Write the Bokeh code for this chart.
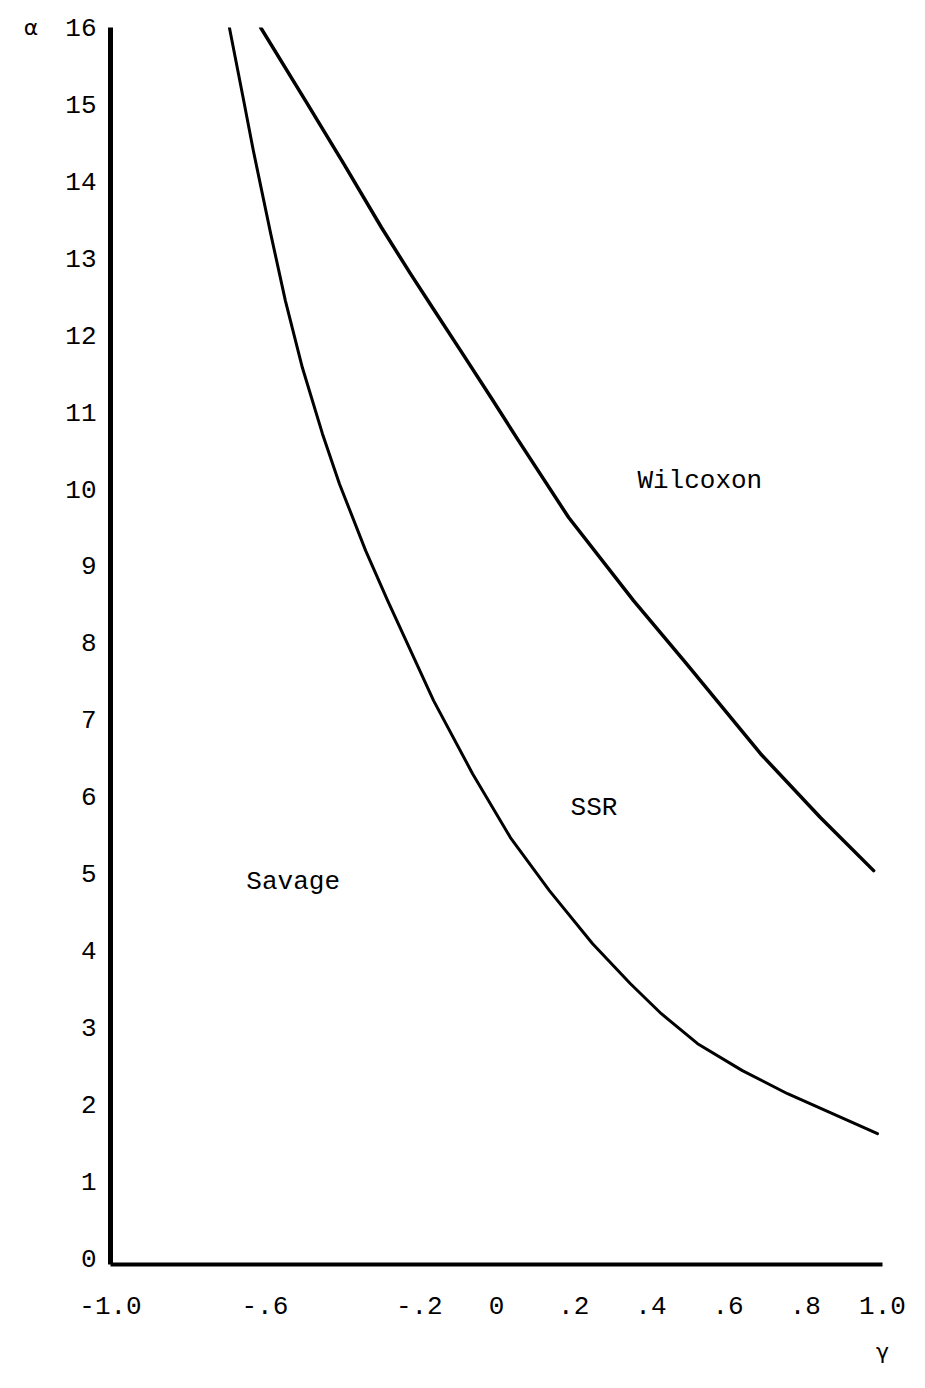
from bokeh.plotting import figure
from bokeh.models import Range1d, FixedTicker, Label
from bokeh.embed import file_html
from bokeh.resources import INLINE

# ---- data ----
gamma_ticks = [-1.0, -0.6, -0.2, 0.0, 0.2, 0.4, 0.6, 0.8, 1.0]
gamma_tick_labels = ["-1.0", "-.6", "-.2", "0", ".2", ".4", ".6", ".8", "1.0"]
alpha_ticks = list(range(0, 17))

# Wilcoxon / SSR boundary
upper_gamma = [-0.611, -0.495, -0.396, -0.298, -0.223, -0.166, -0.093, -0.013,
               0.057, 0.187, 0.355, 0.492, 0.684, 0.839, 0.977]
upper_alpha = [16.0, 15.05, 14.23, 13.40, 12.80, 12.36, 11.80, 11.18,
               10.63, 9.63, 8.55, 7.73, 6.56, 5.73, 5.04]

# SSR / Savage boundary
lower_gamma = [-0.692, -0.655, -0.630, -0.585, -0.547, -0.503, -0.451, -0.407,
               -0.339, -0.282, -0.163, -0.062, 0.036, 0.137, 0.249, 0.347,
               0.427, 0.521, 0.637, 0.754, 0.987]
lower_alpha = [16.0, 15.05, 14.40, 13.32, 12.45, 11.58, 10.72, 10.07,
               9.20, 8.55, 7.25, 6.30, 5.47, 4.78, 4.09, 3.57,
               3.18, 2.79, 2.44, 2.14, 1.62]

region_names = ["Wilcoxon", "SSR", "Savage"]
region_gamma = [0.365, 0.192, -0.648]
region_alpha = [10.11, 5.85, 4.89]

FONT = "Liberation Mono"

p = figure(width=925, height=1388, output_backend="svg", toolbar_location=None,
           x_range=Range1d(-1.0, 1.0), y_range=Range1d(-0.08, 16.0),
           min_border_left=110, min_border_right=43,
           min_border_top=27, min_border_bottom=124)
p.outline_line_color = None
p.xgrid.visible = False
p.ygrid.visible = False
p.background_fill_color = "white"
p.border_fill_color = "white"

p.xaxis.ticker = FixedTicker(ticks=gamma_ticks)
p.xaxis.major_label_overrides = {t: l for t, l in zip(gamma_ticks, gamma_tick_labels)}
p.yaxis.ticker = FixedTicker(ticks=alpha_ticks)

for ax in (p.xaxis, p.yaxis):
    ax.major_tick_line_color = None
    ax.minor_tick_line_color = None
    ax.axis_line_color = "black"
    ax.major_label_text_font = FONT
    ax.major_label_text_font_size = "26px"
    ax.major_label_text_color = "black"
    ax.axis_label_text_font = "DejaVu Sans"
    ax.axis_label_text_font_style = "normal"
    ax.axis_label_text_font_size = "22px"
    ax.axis_label_text_color = "black"
p.yaxis.axis_line_width = 5
p.xaxis.axis_line_width = 4
p.yaxis.major_label_standoff = 8
p.xaxis.major_label_standoff = 26

p.xaxis.axis_label = "γ"
p.yaxis.axis_label = "α"
p.yaxis.axis_label_orientation = "horizontal"
p.xaxis.axis_label_standoff = 22
p.yaxis.axis_label_standoff = 24
for ax in (p.xaxis[0], p.yaxis[0]):
    if hasattr(ax, "axis_label_align"):
        ax.axis_label_align = "end"

p.line(upper_gamma, upper_alpha, line_color="black", line_width=3.5,
       line_join="round", line_cap="round")
p.line(lower_gamma, lower_alpha, line_color="black", line_width=3,
       line_join="round", line_cap="round")

for name, gx, ay in zip(region_names, region_gamma, region_alpha):
    p.add_layout(Label(x=gx, y=ay, text=name, text_font=FONT,
                       text_font_size="26px", text_color="black",
                       text_baseline="alphabetic", text_align="left"))

open("out.html", "w").write(file_html(p, INLINE))
